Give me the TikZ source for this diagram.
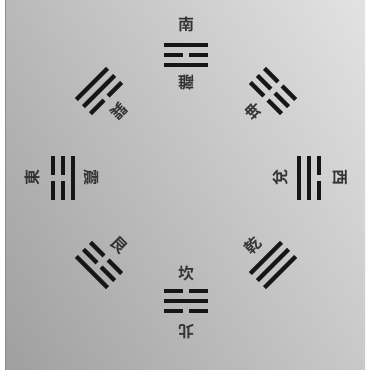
\documentclass[tikz,border=0pt]{standalone}
\usepackage{xcolor}
\usepackage{fontspec}
\usepackage{tikz}
\usetikzlibrary{calc,positioning}
\newfontfamily\guafont{Noto Sans CJK TC}[BoldFont=* Bold]
\definecolor{PaperLight}{RGB}{224, 224, 224}
\definecolor{PaperMid}{RGB}{212, 212, 212}
\definecolor{PaperDark}{RGB}{178, 178, 178}
\definecolor{EdgeGray}{RGB}{140, 140, 140}
\definecolor{YaoInk}{RGB}{22, 22, 22}
\definecolor{NameInk}{RGB}{52, 52, 52}
\tikzset{
    yao/.style={YaoInk, line width=4.3pt},
    guaname/.style={NameInk, font=\guafont\bfseries\fontsize{16}{16}\selectfont, inner sep=0pt, transform shape}
}

\begin{document}
\begin{tikzpicture}[x=1pt, y=1pt]
    \useasboundingbox (0,0) rectangle (365,370);
    % paper
    \fill[white] (0,0) rectangle (365,370);
    \shade[left color=PaperDark, middle color=PaperMid, right color=PaperLight] (6,0) rectangle (365,370);
    \shade[top color=white, bottom color=black, fill opacity=0.10] (6,0) rectangle (365,370);
    \draw[EdgeGray, line width=1pt] (5.5,0) -- (5.5,370);
    \coordinate (centre) at (186,192);
    % eight trigrams, first line innermost
    \foreach \ang/\one/\two/\three/\name/\gua in {
        90/1/0/1/li/離, 45/0/0/0/kun/坤, 0/1/1/0/dui/兌, -45/1/1/1/qian/乾,
        -90/0/1/0/kan/坎, -135/0/0/1/gen/艮, 180/1/0/0/zhen/震, 135/0/1/1/xun/巽} {
        \begin{scope}[shift={(centre)}, rotate=\ang-90]
            \foreach \bit [count=\k] in {\one,\two,\three} {
                \pgfmathsetmacro\yy{123+(\k-2)*10}
                \ifnum\bit=1
                    \draw[yao] (-22,\yy) -- (22,\yy);
                \else
                    \draw[yao] (-22,\yy) -- (-3,\yy) (3,\yy) -- (22,\yy);
                \fi
            }
            \node[guaname, rotate=180] (name-\name) at (0,95) {\gua};
        \end{scope}
    }
    % directions
    \foreach \ang/\dir/\fang in {90/south/南, 0/west/西, -90/north/北, 180/east/東} {
        \begin{scope}[shift={(centre)}, rotate=\ang-90]
            \node[guaname] (dir-\dir) at (0,154) {\fang};
        \end{scope}
    }
\end{tikzpicture}
\end{document}
